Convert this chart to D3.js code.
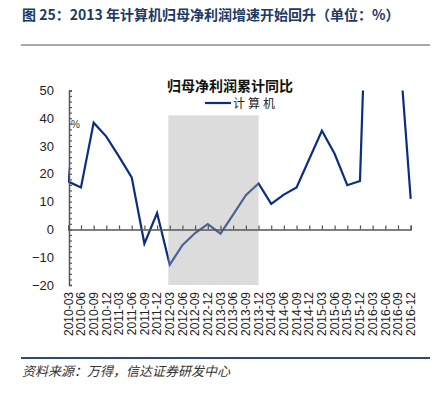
<!DOCTYPE html>
<html>
<head>
<meta charset="utf-8">
<script src="https://cdn.jsdelivr.net/npm/d3@7"></script>
<style>
	body { margin: 0; background: #fff; }
	svg { display: block; }
</style>
</head>
<body>
<svg id="chart"></svg>
<script>
// quarter labels on the x axis
var quarters = ["2010-03","2010-06","2010-09","2010-12","2011-03","2011-06","2011-09","2011-12",
	"2012-03","2012-06","2012-09","2012-12","2013-03","2013-06","2013-09","2013-12",
	"2014-03","2014-06","2014-09","2014-12","2015-03","2015-06","2015-09","2015-12",
	"2016-03","2016-06","2016-09","2016-12"];
// 计算机 归母净利润累计同比 (%)
var computerGrowth = [17.2, 15.1, 38.4, 33.4, 26.2, 18.7, -5.1, 5.9,
	-12.7, -5.7, -1.3, 1.9, -1.5, 5.3, 12.3, 16.5,
	9.2, 12.5, 15.1, 25.3, 35.5, 27.2, 15.9, 17.4,
	155, 120, 72, 11];
var prevQuarterValue = 70; // 2009-12, only its clipped tail shows
var shadeQuarters = ["2012-03", "2013-12"];
var shadeRange = [-20, 41];
var yMajorTicks = [-20, -10, 0, 10, 20, 30, 40, 50];

var width = 441, height = 393;
var svg = d3.select("#chart").attr("width", width).attr("height", height);

var x = d3.scaleLinear().domain([0, quarters.length - 1]).range([68.3, 410.7]);
var y = d3.scaleLinear().domain([-20, 50]).range([285, 90.4]);

// header
svg.append("text")
	.attr("x", 22).attr("y", 20)
	.style("font-family", "'Noto Sans CJK SC'")
	.style("font-weight", "bold")
	.style("font-size", "14px")
	.style("fill", "#203864")
	.text("图 25：2013 年计算机归母净利润增速开始回升（单位：%）");

svg.append("line")
	.attr("x1", 21).attr("x2", 430).attr("y1", 45).attr("y2", 45)
	.attr("stroke", "#8c8c8c").attr("stroke-width", 1.5);

svg.append("defs").append("clipPath").attr("id", "plot")
	.append("rect")
	.attr("x", 68).attr("y", y(50))
	.attr("width", 346).attr("height", y(-20) - y(50));

// line
var pts = [[-1, prevQuarterValue]].concat(computerGrowth.map(function(v, i) { return [i, v]; }));
var line = d3.line()
	.x(function(d) { return x(d[0]); })
	.y(function(d) { return y(d[1]); });

svg.append("path")
	.datum(pts)
	.attr("clip-path", "url(#plot)")
	.attr("d", line)
	.attr("fill", "none")
	.attr("stroke", "#0b2d83")
	.attr("stroke-width", 2.2)
	.attr("stroke-linejoin", "miter");

// shaded period (drawn over the line, translucent)
svg.append("rect")
	.attr("x", x(quarters.indexOf(shadeQuarters[0])) - 1.5)
	.attr("y", y(shadeRange[1]))
	.attr("width", x(quarters.indexOf(shadeQuarters[1])) - x(quarters.indexOf(shadeQuarters[0])) + 1.5)
	.attr("height", y(shadeRange[0]) - y(shadeRange[1]))
	.attr("fill", "#ababab")
	.attr("fill-opacity", 0.42);

// y axis
var yAxis = svg.append("g")
	.attr("transform", "translate(" + 69 + ",0)")
	.call(d3.axisRight(y).tickValues(d3.range(-20, 51, 2)).tickSize(3).tickFormat(""));
yAxis.select(".domain").attr("stroke", "#555").attr("stroke-width", 1.5);
yAxis.selectAll(".tick line").attr("stroke", "#555").attr("stroke-width", 1.2);

svg.append("g").selectAll("text")
	.data(yMajorTicks)
	.enter().append("text")
	.attr("x", 54)
	.attr("y", function(d) { return y(d); })
	.attr("dy", "0.36em")
	.attr("text-anchor", "end")
	.style("font-family", "'Liberation Sans', Arial")
	.style("font-size", "13px")
	.style("fill", "#222")
	.text(d3.format(""));

svg.append("text")
	.attr("x", 71).attr("y", 128)
	.style("font-family", "'Liberation Sans Narrow', 'Liberation Sans'")
	.style("font-size", "10px")
	.style("fill", "#333")
	.text("%");

// x axis at zero
var xAxis = svg.append("g")
	.attr("transform", "translate(0," + y(0) + ")")
	.call(d3.axisTop(x).tickValues(d3.range(quarters.length)).tickSize(4).tickFormat(""));
xAxis.select(".domain").attr("stroke", "#555").attr("stroke-width", 1.5);
xAxis.selectAll(".tick line").attr("stroke", "#555").attr("stroke-width", 1.2);

svg.append("g").selectAll("text")
	.data(quarters)
	.enter().append("text")
	.attr("transform", function(d, i) { return "translate(" + x(i) + ",292) rotate(-90)"; })
	.attr("dy", "0.35em")
	.attr("text-anchor", "end")
	.style("font-family", "'Liberation Sans', Arial")
	.style("font-size", "12px")
	.style("fill", "#222")
	.text(function(d) { return d; });

// chart title + legend
svg.append("text")
	.attr("x", 230).attr("y", 91)
	.attr("text-anchor", "middle")
	.style("font-family", "'Noto Sans CJK SC'")
	.style("font-weight", "bold")
	.style("font-size", "14px")
	.style("fill", "#111")
	.text("归母净利润累计同比");

svg.append("line")
	.attr("x1", 205).attr("x2", 231).attr("y1", 103).attr("y2", 103)
	.attr("stroke", "#0b2d83").attr("stroke-width", 2.2);
svg.append("text")
	.attr("x", 233).attr("y", 107.5)
	.style("font-family", "'Noto Sans CJK SC'")
	.style("font-size", "12px")
	.style("letter-spacing", "3px")
	.style("fill", "#222")
	.text("计算机");

// footer
svg.append("line")
	.attr("x1", 21).attr("x2", 430).attr("y1", 358).attr("y2", 358)
	.attr("stroke", "#2f4a75").attr("stroke-width", 2);
svg.append("text")
	.attr("x", 22).attr("y", 376)
	.style("font-family", "'Noto Sans CJK SC'")
	.style("font-style", "italic")
	.style("font-size", "13px")
	.style("fill", "#333")
	.text("资料来源：万得，信达证券研发中心");
</script>
</body>
</html>
